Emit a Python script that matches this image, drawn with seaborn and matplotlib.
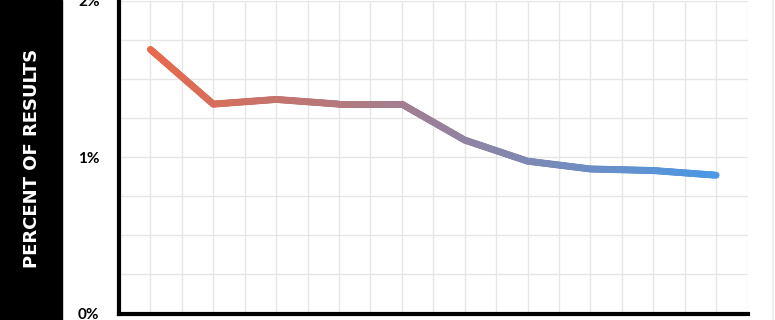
import numpy as np
import pandas as pd
import matplotlib
matplotlib.use("Agg")
import matplotlib.pyplot as plt
import seaborn as sns
from matplotlib.collections import LineCollection
from matplotlib.colors import LinearSegmentedColormap
from matplotlib.patches import Rectangle
from matplotlib.lines import Line2D

positions = list(range(10))
percent = [1.69, 1.34, 1.37, 1.34, 1.34, 1.11, 0.975, 0.925, 0.915, 0.885]
ytick_values = [0, 1, 2]
ytick_labels = ["0%", "1%", "2%"]
ylabel = "PERCENT OF RESULTS"

sns.set_theme(style="whitegrid")
plt.rcParams["font.family"] = ["Lato", "DejaVu Sans"]

fig = plt.figure(figsize=(7.75, 3.2), dpi=100)
ax = fig.add_axes([119 / 775, 1 - 313.5 / 320, (747.5 - 119) / 775, (313.5 - 1.0) / 320])
ax.set_facecolor("white")

df = pd.DataFrame({"x": positions, "y": percent})
sns.lineplot(data=df, x="x", y="y", ax=ax, color="#9a8098", lw=4.5,
             solid_capstyle="round", zorder=3)

# gradient overlay following the same data
cmap = LinearSegmentedColormap.from_list("grad", ["#e9694a", "#4a98e6"])
sx, sy = [], []
for i in range(len(positions) - 1):
    t = np.linspace(0, 1, 25, endpoint=False)
    sx.extend(positions[i] + t * (positions[i + 1] - positions[i]))
    sy.extend(percent[i] + t * (percent[i + 1] - percent[i]))
sx.append(positions[-1]); sy.append(percent[-1])
pts = np.array([sx, sy]).T.reshape(-1, 1, 2)
segs = np.concatenate([pts[:-1], pts[1:]], axis=1)
lc = LineCollection(segs, cmap=cmap, norm=plt.Normalize(positions[0], positions[-1]),
                    linewidths=5, capstyle="round", joinstyle="round", zorder=4)
lc.set_array(np.array(sx[:-1]) + np.diff(sx) / 2)
ax.add_collection(lc)

ax.set_xlim(-0.5, 9.5)
ax.set_ylim(0, 2)
ax.set_xticks([])
ax.set_xticks(np.arange(-0.5, 9.6, 0.5), minor=True)
ax.set_yticks(ytick_values)
ax.set_yticklabels(ytick_labels)
ax.set_yticks(np.arange(0, 2.01, 0.25), minor=True)
ax.grid(which="both", color="#e6e6e6", lw=1)
ax.set_axisbelow(True)
ax.tick_params(axis="both", which="both", length=0)
ax.tick_params(axis="y", pad=14, labelsize=11, labelcolor="black")
for lab in ax.get_yticklabels():
    lab.set_fontweight("bold")
ax.set_xlabel("")
ax.set_ylabel("")

for s in ["top", "right"]:
    ax.spines[s].set_visible(False)
for s in ["left", "bottom"]:
    ax.spines[s].set_visible(True)
    ax.spines[s].set_color("black")
    ax.spines[s].set_linewidth(3)

fig.patches.append(Rectangle((0, 0), 62 / 775, 1, transform=fig.transFigure,
                             color="black", zorder=0))
fig.add_artist(Line2D([773 / 775] * 2, [0, 1], color="#eeeeee", lw=1.5))
fig.text(32 / 775, 1 - 158 / 320, ylabel, rotation=90, color="white",
         fontweight="bold", ha="center", va="center", fontsize=13,
         family=["DejaVu Sans"])

fig.savefig("out.png", dpi=100, facecolor="white")
